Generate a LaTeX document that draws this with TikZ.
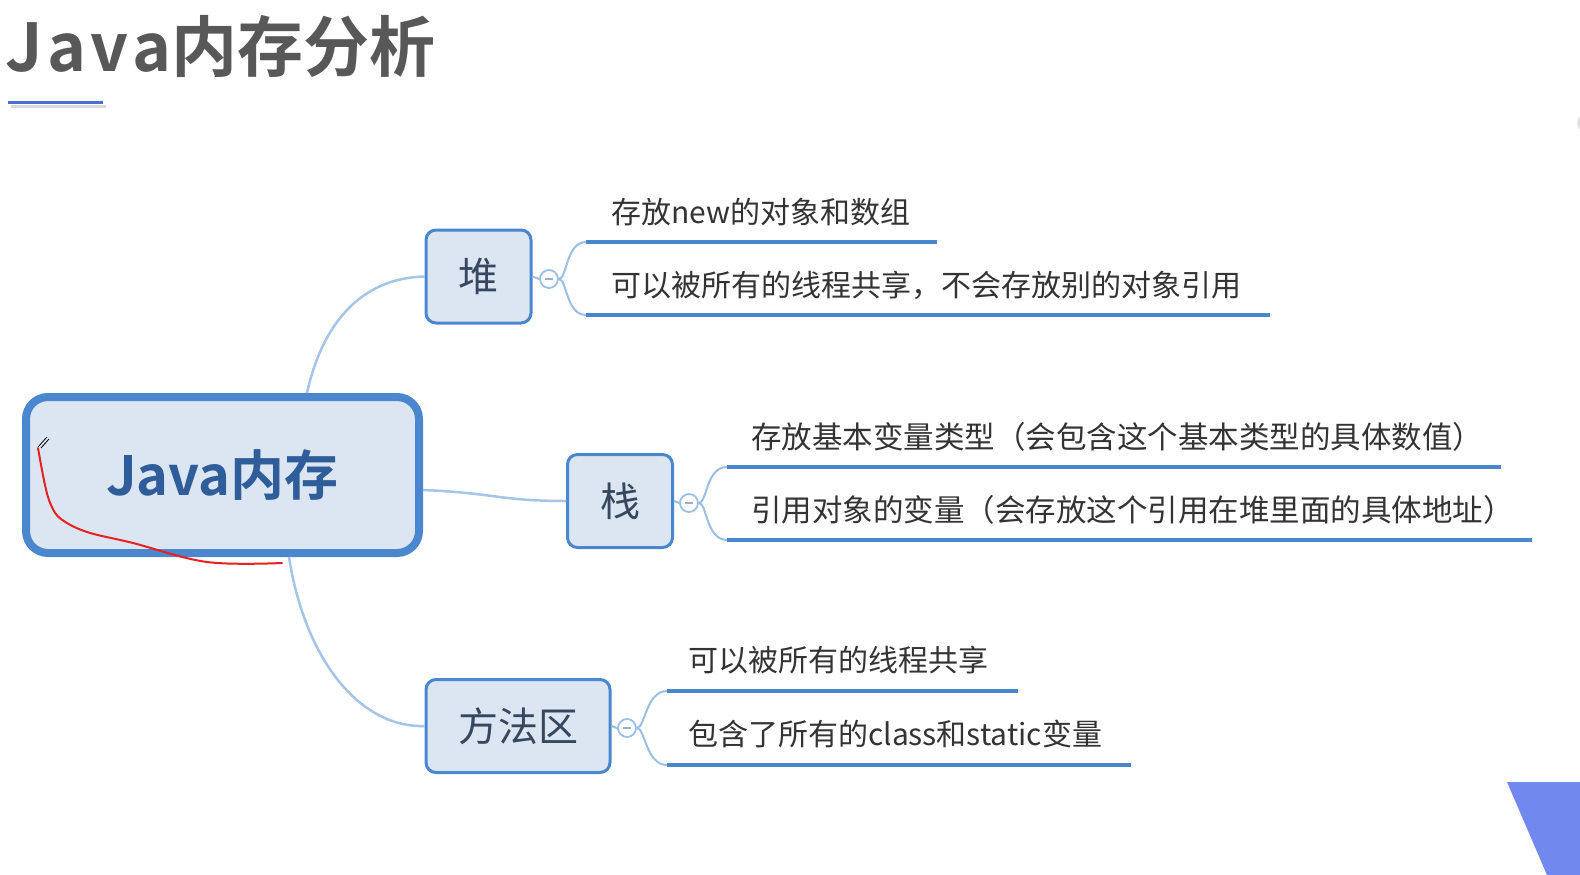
\documentclass[tikz,border=0pt]{standalone}
\usepackage{fontspec}
\setmainfont{Noto Sans CJK SC}[BoldFont={Noto Sans CJK SC Bold}]
\definecolor{titlegray}{HTML}{585858}
\definecolor{accent}{HTML}{4B6FD6}
\definecolor{boxborder}{HTML}{4A87CF}
\definecolor{boxfill}{HTML}{DCE6F2}
\definecolor{maintext}{HTML}{2E5D9A}
\definecolor{subtext}{HTML}{36475F}
\definecolor{linkblue}{HTML}{A6C4E8}
\definecolor{forkblue}{HTML}{9CBFE6}
\definecolor{ulblue}{HTML}{4A86D0}
\definecolor{leaftext}{HTML}{333333}
\definecolor{triblue}{HTML}{7189EE}
\definecolor{penred}{HTML}{E8201E}
\begin{document}
\begin{tikzpicture}[x=1pt,y=-1pt,
  mainbox/.style={draw=boxborder, fill=boxfill, line width=8pt, rounded corners=22pt,
    minimum width=393pt, minimum height=156pt, inner sep=0pt,
    font=\fontsize{54}{58}\selectfont\bfseries, text=maintext},
  subbox/.style={draw=boxborder, fill=boxfill, line width=3pt, rounded corners=10pt,
    minimum width=105pt, minimum height=93pt, inner sep=0pt,
    font=\fontsize{40}{44}\selectfont, text=subtext},
  toggle/.style={circle, draw=forkblue, fill=white, line width=1.8pt, minimum size=18pt, inner sep=0pt,
    path picture={\draw[forkblue!80!gray, line width=1.5pt]
      ([xshift=-4pt]path picture bounding box.center) -- ([xshift=4pt]path picture bounding box.center);}},
  link/.style={draw=linkblue, line width=2.5pt},
  fork/.style={draw=forkblue, line width=2pt},
  uline/.style={draw=ulblue, line width=4.5pt},
  leaf/.style={anchor=base west, inner sep=0pt, text=leaftext, font=\fontsize{30}{34}\selectfont},
  leafb/.style={leaf, font=\fontsize{30.5}{34}\selectfont}
]
\useasboundingbox (0,0) rectangle (1580,875);
\fill[white] (0,0) rectangle (1580,875);

% title
\node[anchor=base west, inner sep=0pt, text=titlegray, font=\fontsize{66}{70}\selectfont\bfseries] (title) at (5,71)
  {{\addfontfeature{LetterSpace=7}Java}内存分析};
\draw[gray!30, line width=3pt] (11,106) -- (106,106);
\draw[accent, line width=3pt] (8,102.5) -- (103,102.5);

% decorations
\fill[triblue] (1507,782) -- (1580,782) -- (1580,875) -- (1547,875) -- cycle;
\fill[gray!22] (1586,123) circle (9);

% nodes
\node[mainbox] (c) at (222.5,475) {Java内存};
\node[subbox] (h) at (478.5,276.5) {堆};
\node[subbox] (s) at (620,501) {栈};
\node[subbox, minimum width=184pt] (m) at (518,726) {方法区};

% main links
\draw[link] (c.north -| 307,0) .. controls (322,325) and (360,278) .. (h.west);
\draw[link] (c.east |- 0,490) .. controls (495,493) and (500,501) .. (s.west);
\draw[link] (c.south -| 289,0) .. controls (305,660) and (360,728) .. (m.west);

% toggles
\node[toggle] (ht) at (549,279) {};
\node[toggle] (st) at (689,503) {};
\node[toggle] (mt) at (627,728) {};
\draw[fork] (h.east) -- (ht.west);
\draw[fork] (s.east) -- (st.west);
\draw[fork] (m.east) -- (mt.west);

% heap leaves
\coordinate (h1s) at (586,242); \coordinate (h1e) at (937,242);
\coordinate (h2s) at (586,315); \coordinate (h2e) at (1270,315);
\draw[fork] (ht.east) .. controls (567,279) and (566,242) .. (h1s);
\draw[fork] (ht.east) .. controls (567,279) and (566,315) .. (h2s);
\draw[uline] (h1s) -- (h1e);
\draw[uline] (h2s) -- (h2e);
\node[leaf] (h1) at (611,223) {存放new的对象和数组};
\node[leaf] (h2) at (611,296) {可以被所有的线程共享，不会存放别的对象引用};

% stack leaves
\coordinate (s1s) at (727,467); \coordinate (s1e) at (1501,467);
\coordinate (s2s) at (727,540); \coordinate (s2e) at (1532,540);
\draw[fork] (st.east) .. controls (707,503) and (706,467) .. (s1s);
\draw[fork] (st.east) .. controls (707,503) and (706,540) .. (s2s);
\draw[uline] (s1s) -- (s1e);
\draw[uline] (s2s) -- (s2e);
\node[leafb] (s1) at (751,448) {存放基本变量类型（会包含这个基本类型的具体数值）};
\node[leafb] (s2) at (751,521) {引用对象的变量（会存放这个引用在堆里面的具体地址）};

% method area leaves
\coordinate (m1s) at (667,691); \coordinate (m1e) at (1018,691);
\coordinate (m2s) at (667,765); \coordinate (m2e) at (1131,765);
\draw[fork] (mt.east) .. controls (645,728) and (646,691) .. (m1s);
\draw[fork] (mt.east) .. controls (645,728) and (646,765) .. (m2s);
\draw[uline] (m1s) -- (m1e);
\draw[uline] (m2s) -- (m2e);
\node[leaf] (m1) at (688,671) {可以被所有的线程共享};
\node[leaf] (m2) at (688,745) {包含了所有的class和static变量};

% hand-drawn red annotation
\draw[penred, line width=2pt, line cap=round, line join=round]
  plot[smooth, tension=0.6] coordinates {(38,448) (45,485) (51,505) (61,519) (87,532) (133,543) (207,562) (282,563)};
\draw[black, line width=0.8pt] (38,447) -- (47,437);
\draw[black, line width=0.8pt] (41,448) -- (49,439);
\end{tikzpicture}
\end{document}
